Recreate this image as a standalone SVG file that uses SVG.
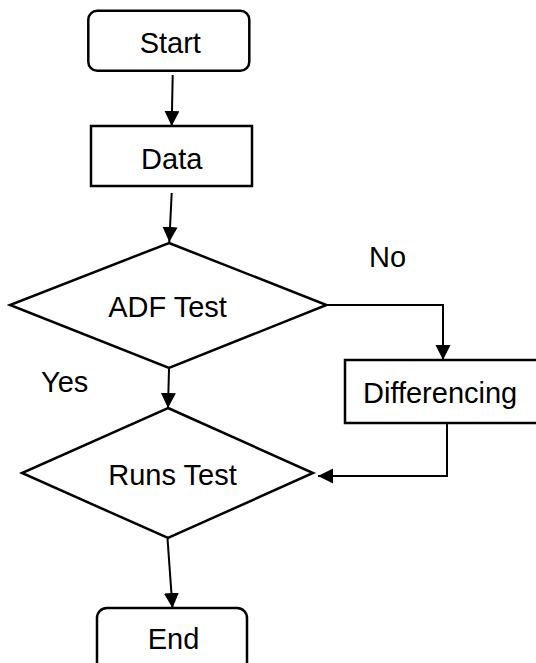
<svg xmlns="http://www.w3.org/2000/svg" width="536" height="663" viewBox="0 0 536 663">
  <defs>
    <marker id="arr" markerUnits="userSpaceOnUse" markerWidth="16" markerHeight="16" refX="15" refY="7.5" orient="auto">
      <path d="M0,0 L15,7.5 L0,15 z" fill="#000"/>
    </marker>
    <style>
      .shape { fill: #fff; stroke: #000; stroke-width: 2.5; }
      .conn { fill: none; stroke: #000; stroke-width: 2; marker-end: url(#arr); }
      text { font-family: "Liberation Sans", Arial, sans-serif; font-size: 29px; fill: #000; }
      .c { text-anchor: middle; }
    </style>
  </defs>
  <rect width="536" height="663" fill="#fff"/>
  <g id="connectors">
    <line class="conn" x1="172.7" y1="75" x2="171.7" y2="126"/>
    <line class="conn" x1="171.7" y1="193" x2="169.3" y2="242"/>
    <polyline class="conn" points="326.5,305 443,305 443,360"/>
    <line class="conn" x1="169" y1="368.5" x2="168" y2="408"/>
    <polyline class="conn" points="447,423 447,476 318,476"/>
    <line class="conn" x1="167.5" y1="538.5" x2="172.5" y2="608"/>
  </g>
  <g id="start">
    <rect class="shape" x="88.3" y="10.7" width="161" height="60" rx="9"/>
    <text class="c" x="170.3" y="52.5">Start</text>
  </g>
  <g id="data">
    <rect class="shape" x="91" y="126" width="161" height="60"/>
    <text class="c" x="171.7" y="168.5">Data</text>
  </g>
  <g id="adf">
    <polygon class="shape" points="169,243 326.5,305 169,368 10,305"/>
    <text class="c" x="167.5" y="317">ADF Test</text>
  </g>
  <g id="differencing">
    <rect class="shape" x="345" y="360" width="200" height="63"/>
    <text x="363" y="403">Differencing</text>
  </g>
  <g id="runs">
    <polygon class="shape" points="168,408 313,473 168,538 22,473"/>
    <text class="c" x="172.5" y="485">Runs Test</text>
  </g>
  <g id="end">
    <rect class="shape" x="97" y="608" width="150" height="70" rx="10"/>
    <text class="c" x="173.5" y="648.5">End</text>
  </g>
  <g id="labels">
    <text x="369" y="267">No</text>
    <text x="41" y="392">Yes</text>
  </g>
</svg>
